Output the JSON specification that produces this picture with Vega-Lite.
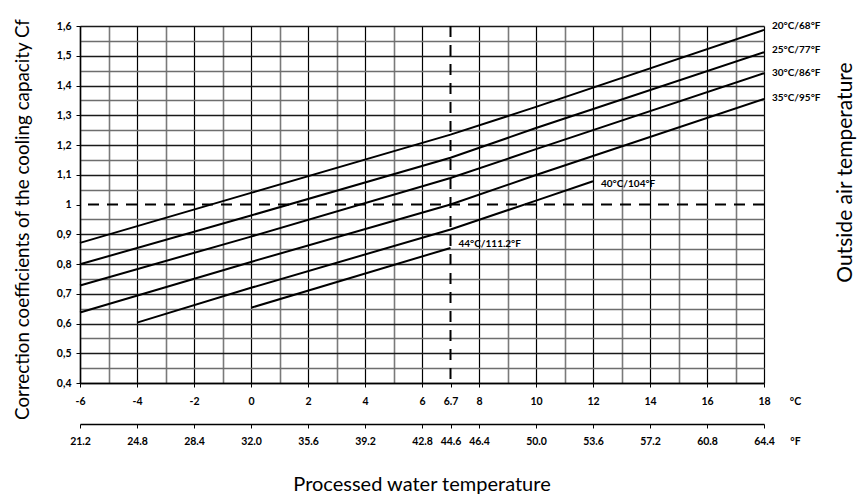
{
  "$schema": "https://vega.github.io/schema/vega-lite/v6.json",
  "width": 684,
  "height": 357,
  "autosize": {"type": "none"},
  "padding": {"left": 80, "top": 26, "right": 99, "bottom": 116},
  "background": "white",
  "config": {
    "view": {"stroke": null},
    "font": "Lato",
    "axis": {"labelFont": "Lato", "titleFont": "Lato", "labelColor": "#000", "titleColor": "#000"}
  },
  "datasets": {
    "curves": [
      {"series": "20°C/68°F", "water_C": -6, "cf": 0.871},
      {"series": "20°C/68°F", "water_C": 0, "cf": 1.039},
      {"series": "20°C/68°F", "water_C": 7, "cf": 1.235},
      {"series": "20°C/68°F", "water_C": 10, "cf": 1.328},
      {"series": "20°C/68°F", "water_C": 18, "cf": 1.587},
      {"series": "25°C/77°F", "water_C": -6, "cf": 0.799},
      {"series": "25°C/77°F", "water_C": 0, "cf": 0.963},
      {"series": "25°C/77°F", "water_C": 7, "cf": 1.157},
      {"series": "25°C/77°F", "water_C": 10, "cf": 1.257},
      {"series": "25°C/77°F", "water_C": 18, "cf": 1.512},
      {"series": "30°C/86°F", "water_C": -6, "cf": 0.728},
      {"series": "30°C/86°F", "water_C": 0, "cf": 0.892},
      {"series": "30°C/86°F", "water_C": 7, "cf": 1.089},
      {"series": "30°C/86°F", "water_C": 10, "cf": 1.186},
      {"series": "30°C/86°F", "water_C": 18, "cf": 1.441},
      {"series": "35°C/95°F", "water_C": -6, "cf": 0.637},
      {"series": "35°C/95°F", "water_C": 0, "cf": 0.807},
      {"series": "35°C/95°F", "water_C": 7, "cf": 1.0},
      {"series": "35°C/95°F", "water_C": 10, "cf": 1.099},
      {"series": "35°C/95°F", "water_C": 18, "cf": 1.355},
      {"series": "40°C/104°F", "water_C": -4, "cf": 0.603},
      {"series": "40°C/104°F", "water_C": 0, "cf": 0.72},
      {"series": "40°C/104°F", "water_C": 7, "cf": 0.916},
      {"series": "40°C/104°F", "water_C": 10, "cf": 1.013},
      {"series": "40°C/104°F", "water_C": 12, "cf": 1.078},
      {"series": "44°C/111.2°F", "water_C": 0, "cf": 0.653},
      {"series": "44°C/111.2°F", "water_C": 7, "cf": 0.854}
    ],
    "labels": [
      {"label": "20°C/68°F", "water_C": 18, "cf": 1.6},
      {"label": "25°C/77°F", "water_C": 18, "cf": 1.52},
      {"label": "30°C/86°F", "water_C": 18, "cf": 1.442},
      {"label": "35°C/95°F", "water_C": 18, "cf": 1.358},
      {"label": "40°C/104°F", "water_C": 12, "cf": 1.069},
      {"label": "44°C/111.2°F", "water_C": 7, "cf": 0.868}
    ],
    "refF": [{"water_F": 44.6}],
    "refCf": [{"cf": 1}]
  },
  "title": {
    "text": "Processed water temperature",
    "orient": "bottom",
    "anchor": "middle",
    "frame": "group",
    "font": "Lato",
    "fontSize": 20,
    "fontWeight": "normal",
    "color": "#000",
    "offset": 28
  },
  "layer": [
    {
      "encoding": {
        "x": {
          "field": "water_C",
          "type": "quantitative",
          "scale": {"domain": [-6, 18], "nice": false, "zero": false},
          "axis": {
            "values": [-6, -5, -4, -3, -2, -1, 0, 1, 2, 3, 4, 5, 6, 7, 8, 9, 10, 11, 12, 13, 14, 15, 16, 17, 18],
            "labelExpr": "datum.value % 2 === 0 ? ('' + datum.value) : (datum.value === 7 ? '6.7' : '')",
            "labelFontSize": 10.5,
            "labelFontWeight": "bold",
            "labelBaseline": "middle",
            "labelPadding": 14,
            "labelFlush": false,
            "labelOverlap": false,
            "tickSize": 4,
            "tickColor": "#000",
            "tickOpacity": {"condition": {"test": "datum.value % 2 === 0 || datum.value === 7", "value": 1}, "value": 0},
            "domain": true,
            "domainColor": "#000",
            "domainWidth": 1.5,
            "grid": true,
            "gridColor": {"condition": {"test": "datum.value % 2 === 0", "value": "#000"}, "value": "#7a7a7a"},
            "gridWidth": {"condition": {"test": "datum.value % 2 === 0", "value": 1.2}, "value": 1.6},
            "gridOpacity": {"condition": {"test": "datum.value === 7", "value": 0}, "value": 1},
            "title": "°C",
            "titleFontSize": 10.5,
            "titleFontWeight": "bold",
            "titleX": 715,
            "titleY": 18,
            "titleAlign": "center",
            "titleBaseline": "middle"
          }
        },
        "y": {
          "field": "cf",
          "type": "quantitative",
          "scale": {"domain": [0.4, 1.6], "nice": false, "zero": false},
          "axis": {
            "values": [0.4, 0.45, 0.5, 0.55, 0.6, 0.65, 0.7, 0.75, 0.8, 0.85, 0.9, 0.95, 1, 1.05, 1.1, 1.15, 1.2, 1.25, 1.3, 1.35, 1.4, 1.45, 1.5, 1.55, 1.6],
            "labelExpr": "round(datum.value * 20) % 2 === 0 ? (datum.value === 1 ? '1' : replace(format(datum.value, '.1f'), '.', ',')) : ''",
            "labelFontSize": 10.5,
            "labelFontWeight": "bold",
            "labelPadding": 5,
            "labelFlush": false,
            "labelOverlap": false,
            "tickSize": 4,
            "tickColor": "#000",
            "tickOpacity": {"condition": {"test": "round(datum.value * 20) % 2 === 0", "value": 1}, "value": 0},
            "domain": true,
            "domainColor": "#000",
            "domainWidth": 1.5,
            "grid": true,
            "gridColor": {"condition": {"test": "round(datum.value * 20) % 2 === 0", "value": "#1a1a1a"}, "value": "#6e6e6e"},
            "gridWidth": 1.5,
            "gridOpacity": {"condition": {"test": "datum.value === 1", "value": 0}, "value": 1},
            "title": "Correction coefficients of the cooling capacity Cf",
            "titleFontSize": 18.8,
            "titleFontWeight": "normal",
            "titleAngle": -90,
            "titleX": -58,
            "titleY": 193,
            "titleAlign": "center",
            "titleBaseline": "middle"
          }
        }
      },
      "layer": [
        {
          "data": {"name": "curves"},
          "mark": {"type": "line", "color": "#000", "strokeWidth": 2},
          "encoding": {"detail": {"field": "series", "type": "nominal"}}
        },
        {
          "data": {"name": "labels"},
          "mark": {"type": "text", "align": "left", "baseline": "middle", "dx": 8, "fontSize": 10, "fontWeight": "bold", "font": "Lato", "color": "#000"},
          "encoding": {"text": {"field": "label", "type": "nominal"}}
        }
      ]
    },
    {
      "layer": [
        {
          "data": {"name": "refF"},
          "mark": {"type": "rule", "color": "#000", "strokeWidth": 2, "strokeDash": [11, 8]},
          "encoding": {
            "x": {
              "field": "water_F",
              "type": "quantitative",
              "scale": {"domain": [21.2, 64.4], "nice": false, "zero": false},
              "axis": {
                "orient": "bottom",
                "offset": 41,
                "values": [21.2, 24.8, 28.4, 32, 35.6, 39.2, 42.8, 44.6, 46.4, 50, 53.6, 57.2, 60.8, 64.4],
                "format": ".1f",
                "labelFontSize": 10.5,
                "labelFontWeight": "bold",
                "labelBaseline": "middle",
                "labelPadding": 13,
                "labelFlush": false,
                "labelOverlap": false,
                "tickSize": 4,
                "tickColor": "#000",
                "domainColor": "#000",
                "domainWidth": 1.5,
                "grid": false,
                "title": "°F",
                "titleFontSize": 10.5,
                "titleFontWeight": "bold",
                "titleX": 715,
                "titleY": 17,
                "titleAlign": "center",
                "titleBaseline": "middle"
              }
            }
          }
        },
        {
          "data": {"name": "refCf"},
          "mark": {"type": "rule", "color": "#000", "strokeWidth": 2, "strokeDash": [11, 8]},
          "encoding": {
            "y": {
              "field": "cf",
              "type": "quantitative",
              "scale": {"domain": [0.4, 1.6], "nice": false, "zero": false},
              "axis": {
                "orient": "right",
                "domain": false,
                "ticks": false,
                "labels": false,
                "grid": false,
                "title": "Outside air temperature",
                "titleFontSize": 21,
                "titleFontWeight": "normal",
                "titleAngle": -90,
                "titleX": 81,
                "titleY": 146,
                "titleAlign": "center",
                "titleBaseline": "middle"
              }
            }
          }
        }
      ]
    }
  ],
  "resolve": {"scale": {"x": "independent"}, "axis": {"y": "independent"}}
}
